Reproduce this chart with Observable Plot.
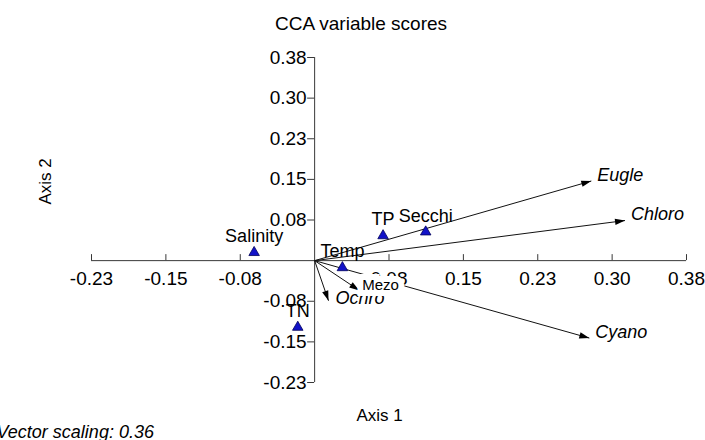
<!DOCTYPE html>
<html><head><meta charset="utf-8">
<script src="https://cdn.jsdelivr.net/npm/d3@7"></script>
<script src="https://cdn.jsdelivr.net/npm/@observablehq/plot@0.6"></script>
<style>html,body{margin:0;padding:0;background:#fff;} svg{display:block;}</style>
</head><body><div id="chart"></div>
<script>
const title = "CCA variable scores";
const xAxisLabel = "Axis 1";
const yAxisLabel = "Axis 2";
const footnote = "Vector scaling: 0.36";
const tickValues = [-0.225, -0.15, -0.075, 0.075, 0.15, 0.225, 0.3, 0.375];
const tickLabels = ["-0.23", "-0.15", "-0.08", "0.08", "0.15", "0.23", "0.30", "0.38"];
const envNames = ["Salinity", "TP", "Secchi", "Temp", "TN"];
const envX = [-0.061, 0.069, 0.112, 0.028, -0.017];
const envY = [0.015, 0.046, 0.053, -0.013, -0.123];
const vecNames = ["Eugle", "Chloro", "Cyano", "Mezo", "Ochro"];
const vecX = [0.279, 0.313, 0.277, 0.045, 0.014];
const vecY = [0.147, 0.074, -0.143, -0.055, -0.074];

const ticks = tickValues.map((v, i) => ({v, label: tickLabels[i]}));
const env = envNames.map((name, i) => ({name, x: envX[i], y: envY[i]}));
const vecs = vecNames.map((name, i) => ({name, x: vecX[i], y: vecY[i]}));
const lo = tickValues[0], hi = tickValues[tickValues.length - 1];
const FONT = "'Liberation Sans', Arial, sans-serif";
const AX = "#383838";

function filledArrow(color) {
  const m = d3.create("svg:marker")
    .attr("viewBox", "-10 -5 10 10")
    .attr("markerWidth", 10).attr("markerHeight", 10)
    .attr("markerUnits", "userSpaceOnUse")
    .attr("orient", "auto")
    .attr("overflow", "visible");
  m.append("path").attr("d", "M0,0L-10,-3.2L-10,3.2Z").attr("fill", "#000").attr("stroke", "none");
  return m.node();
}

function build(useMarker) {
  const vectorMark = useMarker
    ? Plot.link(vecs, {x1: 0, y1: 0, x2: "x", y2: "y", stroke: "#111", strokeWidth: 1, markerEnd: filledArrow})
    : Plot.arrow(vecs, {x1: 0, y1: 0, x2: "x", y2: "y", stroke: "#111", strokeWidth: 1, headLength: 9, headAngle: 35});
  return Plot.plot({
    width: 705, height: 440,
    marginTop: 0, marginRight: 0, marginBottom: 0, marginLeft: 0,
    style: {fontFamily: FONT, fontSize: "18px", background: "#fff", color: "#000"},
    x: {domain: [lo, hi], range: [91, 686], axis: null},
    y: {domain: [lo, hi], range: [382, 57], axis: null},
    marks: [
      Plot.ruleY([0], {x1: lo, x2: hi, stroke: AX, strokeWidth: 1}),
      Plot.ruleX([0], {y1: lo, y2: hi, stroke: AX, strokeWidth: 1}),
      Plot.ruleX(ticks, {x: "v", y1: 0, y2: 0, insetTop: -6, stroke: AX}),
      Plot.ruleY(ticks, {y: "v", x1: 0, x2: 0, insetLeft: -7, stroke: AX}),
      Plot.text(ticks, {x: "v", y: 0, text: "label", dy: 18, fontSize: 19, fill: "#000"}),
      Plot.text(ticks, {x: 0, y: "v", text: "label", dx: -8, textAnchor: "end", fontSize: 19, fill: "#000"}),
      vectorMark,
      Plot.dot(env, {x: "x", y: "y", symbol: "triangle", r: 3.9, fill: "#1212c8", stroke: "#00005a", strokeWidth: 0.8}),
      Plot.text(env, {x: "x", y: "y", text: "name", dy: -16, fontSize: 18, fill: "#000"}),
      Plot.text(vecs.filter(d => d.name !== "Mezo" && d.name !== "Ochro"), {x: "x", y: "y", text: "name", dx: 6, dy: -6, textAnchor: "start", fontSize: 18, fontStyle: "italic", fill: "#000"}),
      Plot.text(vecs.filter(d => d.name === "Ochro"), {x: "x", y: "y", text: "name", dx: 7, dy: -2, textAnchor: "start", fontSize: 18, fontStyle: "italic", fill: "#000"}),
      Plot.text(vecs.filter(d => d.name === "Mezo"), {x: "x", y: "y", text: "name", dx: 3, dy: -5, textAnchor: "start", fontSize: 15, fill: "#000", stroke: "#fff", strokeWidth: 12, strokeLinejoin: "miter", paintOrder: "stroke"}),
      Plot.text([title], {frameAnchor: "top", lineAnchor: "middle", dx: 8, dy: 23, fontSize: 19, fill: "#000"}),
      Plot.text([xAxisLabel], {frameAnchor: "top-left", lineAnchor: "middle", dx: 356, dy: 415, fontSize: 17, fill: "#000"}),
      Plot.text([yAxisLabel], {frameAnchor: "top-left", lineAnchor: "middle", dx: 45, dy: 204, rotate: -90, fontSize: 17, fill: "#000"}),
      Plot.text([footnote], {frameAnchor: "bottom-left", lineAnchor: "middle", dx: -4, dy: -8, textAnchor: "start", fontSize: 18, fontStyle: "italic", fill: "#000"})
    ]
  });
}

let chart;
try { chart = build(true); } catch (e) { chart = build(false); }
document.getElementById("chart").appendChild(chart);
</script>
</body></html>
